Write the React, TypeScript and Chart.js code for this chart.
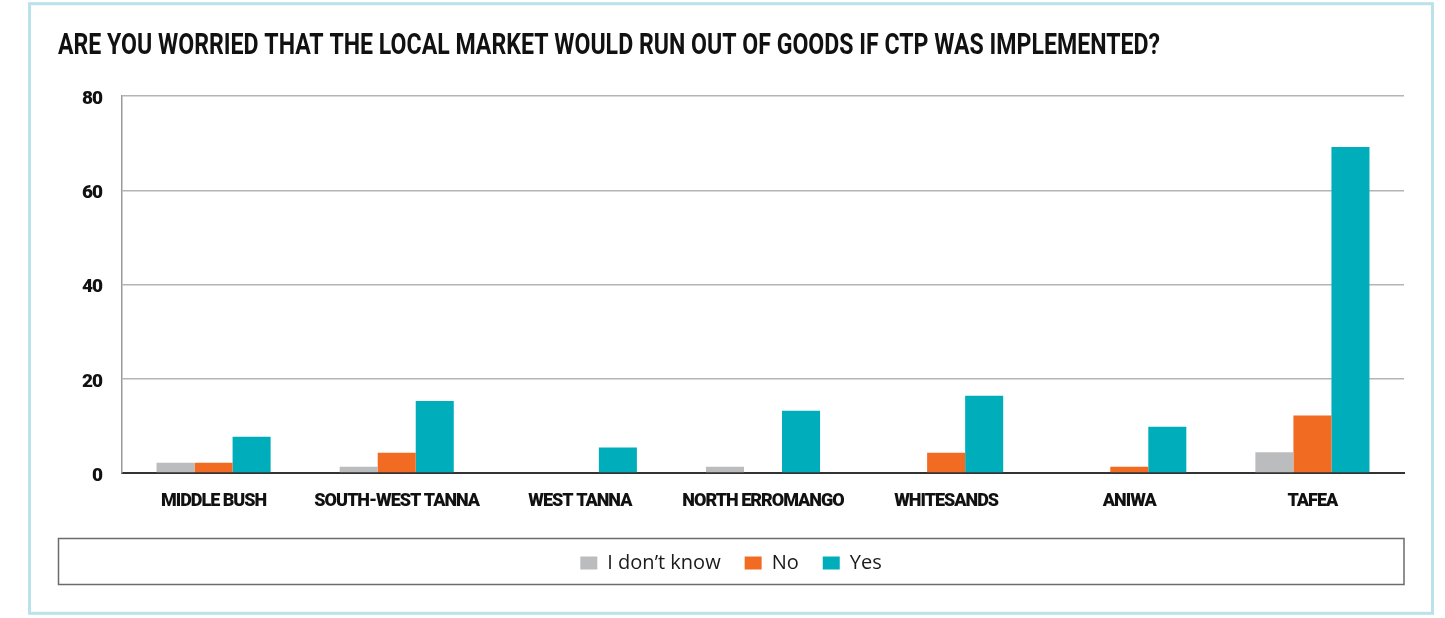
import React, { useEffect, useRef } from "react";
import { Chart, registerables } from "chart.js";

Chart.register(...registerables);

const TITLE = "ARE YOU WORRIED THAT THE LOCAL MARKET WOULD RUN OUT OF GOODS IF CTP WAS IMPLEMENTED?";
const categories = ["MIDDLE BUSH", "SOUTH-WEST TANNA", "WEST TANNA", "NORTH ERROMANGO", "WHITESANDS", "ANIWA", "TAFEA"];
const dontKnow = [2.2, 1.3, 0, 1.3, 0, 0, 4.4];
const no = [2.2, 4.3, 0, 0, 4.3, 1.3, 12.2];
const yes = [7.7, 15.3, 5.4, 13.2, 16.4, 9.8, 69.2];
const seriesNames = ["I don\u2019t know", "No", "Yes"];
const seriesColors = ["#bbbcbe", "#f26b23", "#00adbb"];
const yTicks = [0, 20, 40, 60, 80];

const COND = "Roboto, 'Liberation Sans', sans-serif";

const framePlugin = {
  id: "frame",
  afterLayout(chart: any) {
    // condensed look for the title: the title is squeezed into this width
    const t = chart.titleBlock;
    if (t) t.right = t.left + 1102;
  },
  beforeDraw(chart: any) {
    const ctx = chart.ctx;
    ctx.save();
    ctx.fillStyle = "#ffffff";
    ctx.fillRect(0, 0, chart.width, chart.height);
    ctx.strokeStyle = "#b9e2e9";
    ctx.lineWidth = 3;
    ctx.strokeRect(29.5, 3.7, 1403, 609.6);
    ctx.restore();
  },
  afterDatasetsDraw(chart: any) {
    // tighter letters for the axis tick labels (drawn after datasets, z = 1)
    (chart.ctx as any).letterSpacing = "-1px";
  },
  afterDraw(chart: any) {
    const ctx = chart.ctx;
    (ctx as any).letterSpacing = "0px";
    const lg = chart.legend;
    if (!lg || !lg.legendHitBoxes || !lg.legendHitBoxes.length) return;
    const hb = lg.legendHitBoxes[0];
    const cy = hb.top + hb.height / 2;
    ctx.save();
    ctx.strokeStyle = "#6b6b6b";
    ctx.lineWidth = 1.5;
    ctx.strokeRect(58.5, cy - 24.5, chart.chartArea.right - 58.5, 46);
    ctx.restore();
  },
};

export default function App() {
  const ref = useRef<HTMLCanvasElement | null>(null);
  useEffect(() => {
    document.body.style.margin = "0";
    const values = [dontKnow, no, yes];
    const chart = new Chart(ref.current as HTMLCanvasElement, {
      type: "bar",
      data: {
        labels: categories,
        datasets: values.map((v, i) => ({
          label: seriesNames[i],
          data: v,
          backgroundColor: seriesColors[i],
          borderWidth: 0,
          categoryPercentage: 0.623,
          barPercentage: 1.0,
        })),
      },
      options: {
        animation: false,
        responsive: false,
        maintainAspectRatio: false,
        layout: { padding: { top: 28, left: 58, right: 41, bottom: 35 } },
        plugins: {
          tooltip: { enabled: false },
          title: {
            display: true,
            text: TITLE,
            align: "start",
            color: "#111111",
            font: { family: COND, weight: "bold", size: 30, lineHeight: 1.2 },
            padding: { top: 0, bottom: 32 },
          },
          legend: {
            display: true,
            position: "bottom",
            align: "center",
            labels: {
              boxWidth: 17,
              boxHeight: 13,
              padding: 24,
              color: "#1a1a1a",
              font: { family: "'Open Sans', Lato, sans-serif", size: 20 },
            },
          },
        },
        scales: {
          x: {
            grid: { display: false, drawTicks: false },
            border: { display: true, color: "#333333", width: 2 },
            ticks: {
              z: 1,
              color: "#111111",
              padding: 18,
              maxRotation: 0,
              autoSkip: false,
              font: { family: COND, weight: "900", size: 18 },
            },
            afterFit: (s: any) => {
              s.height = 56;
            },
          },
          y: {
            min: 0,
            max: 80,
            afterBuildTicks: (s: any) => {
              s.ticks = yTicks.map((v) => ({ value: v }));
            },
            ticks: {
              z: 1,
              color: "#111111",
              padding: 20,
              labelOffset: 3,
              font: { family: COND, weight: "900", size: 19 },
            },
            grid: {
              drawTicks: false,
              lineWidth: 1.5,
              color: (c: any) => (c.tick && c.tick.value === 0 ? "rgba(0,0,0,0)" : "#b4b4b4"),
            },
            border: { display: true, color: "#999999", width: 1.5 },
            afterFit: (s: any) => {
              s.width = 64;
            },
          },
        },
      },
      plugins: [framePlugin],
    });
    return () => chart.destroy();
  }, []);
  return (
    <div style={{ position: "absolute", left: 0, top: 0, width: 1445, height: 618 }}>
      <canvas ref={ref} width={1445} height={618} style={{ width: 1445, height: 618, display: "block" }} />
    </div>
  );
}
